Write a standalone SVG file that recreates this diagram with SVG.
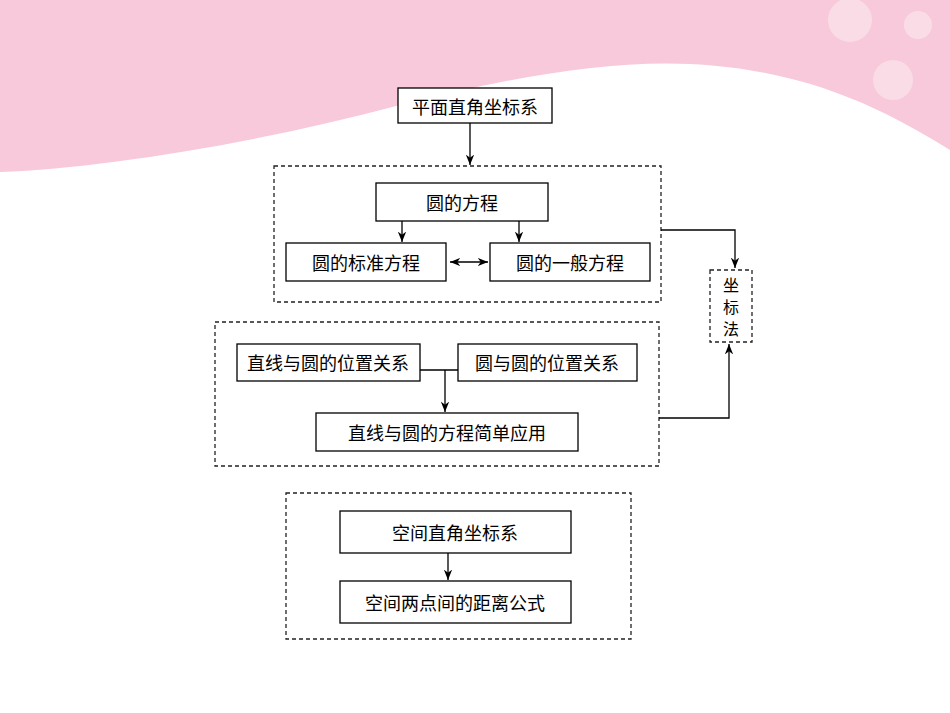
<svg xmlns="http://www.w3.org/2000/svg" width="950" height="713" viewBox="0 0 950 713">
<style>
.b{fill:#fff;stroke:#000;stroke-width:1.3}
.d{fill:none;stroke:#222;stroke-width:1.3;stroke-dasharray:4 3}
.t{font-family:"Noto Sans CJK SC",sans-serif;font-size:18px;fill:#000;text-anchor:middle;dominant-baseline:central}
.s{font-size:16px}
.c{fill:none;stroke:#000;stroke-width:1.3}
</style>
<defs><marker id="a" viewBox="0 0 10 10" refX="10" refY="5" markerWidth="8" markerHeight="8" orient="auto-start-reverse"><path d="M0,1 L10,5 L0,9 L3,5z" fill="#000"/></marker></defs>
<rect width="950" height="713" fill="#fff"/>
<path d="M0,0H950V150C900,120 820,70 690,64C600,60 500,80 400,105C250,145 100,168 0,172Z" fill="#f7c9da"/>
<g fill="#fbe1ea" opacity="0.8">
<circle cx="850" cy="20" r="22"/><circle cx="918" cy="25" r="14"/><circle cx="893" cy="80" r="20"/>
</g>
<g id="n1"><rect class="b" x="398" y="88" width="154" height="35"/><text class="t" x="475" y="106">平面直角坐标系</text></g>
<g id="g1"><rect class="d" x="274" y="166" width="387" height="136"/></g>
<g id="n2"><rect class="b" x="376" y="183" width="172" height="38"/><text class="t" x="462" y="202">圆的方程</text></g>
<g id="n3"><rect class="b" x="286" y="243" width="160" height="38"/><text class="t" x="366" y="262">圆的标准方程</text></g>
<g id="n4"><rect class="b" x="490" y="243" width="160" height="38"/><text class="t" x="570" y="262">圆的一般方程</text></g>
<g id="n5"><rect class="d" x="710" y="270" width="42" height="72"/><text class="t s" x="731" y="284">坐</text><text class="t s" x="731" y="306">标</text><text class="t s" x="731" y="328">法</text></g>
<g id="g2"><rect class="d" x="215" y="322" width="444" height="144"/></g>
<g id="n6"><rect class="b" x="237" y="344" width="183" height="37"/><text class="t" x="328" y="362">直线与圆的位置关系</text></g>
<g id="n7"><rect class="b" x="458" y="344" width="179" height="37"/><text class="t" x="547" y="362">圆与圆的位置关系</text></g>
<g id="n8"><rect class="b" x="316" y="413" width="262" height="38"/><text class="t" x="447" y="432">直线与圆的方程简单应用</text></g>
<g id="g3"><rect class="d" x="286" y="493" width="345" height="146"/></g>
<g id="n9"><rect class="b" x="340" y="511" width="231" height="42"/><text class="t" x="455" y="532">空间直角坐标系</text></g>
<g id="n10"><rect class="b" x="340" y="581" width="231" height="42"/><text class="t" x="455" y="602">空间两点间的距离公式</text></g>
<g id="edges">
<path class="c" d="M470,123V165" marker-end="url(#a)"/>
<path class="c" d="M402,221V242" marker-end="url(#a)"/>
<path class="c" d="M519,221V242" marker-end="url(#a)"/>
<path class="c" d="M450,262H488" marker-start="url(#a)" marker-end="url(#a)"/>
<path class="c" d="M661,230H735V268" marker-end="url(#a)"/>
<path class="c" d="M659,418H729V344" marker-end="url(#a)"/>
<path class="c" d="M420,370H458M445,370V412" marker-end="url(#a)"/>
<path class="c" d="M448,553V580" marker-end="url(#a)"/>
</g>
</svg>
